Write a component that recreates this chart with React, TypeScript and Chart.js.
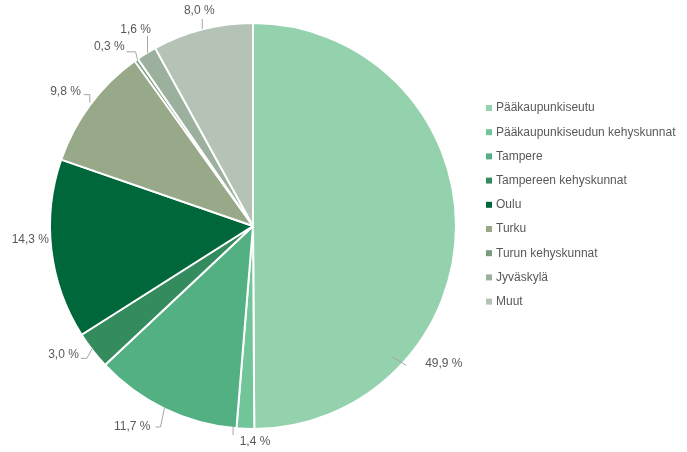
import React, { useEffect, useRef } from "react";
import { Chart, registerables } from "chart.js";

Chart.register(...registerables);

const categories = [
  "Pääkaupunkiseutu",
  "Pääkaupunkiseudun kehyskunnat",
  "Tampere",
  "Tampereen kehyskunnat",
  "Oulu",
  "Turku",
  "Turun kehyskunnat",
  "Jyväskylä",
  "Muut",
];
const values = [49.9, 1.4, 11.7, 3.0, 14.3, 9.8, 0.3, 1.6, 8.0];
const valueLabels = ["49,9 %", "1,4 %", "11,7 %", "3,0 %", "14,3 %", "9,8 %", "0,3 %", "1,6 %", "8,0 %"];
const colors = ["#94d2ad", "#72c598", "#52b083", "#348b5e", "#00673b", "#98a98a", "#7c9a80", "#9bb09d", "#b4c3b6"];

// label placement (pixels relative to pie centre, for radius 204)
type LabelPlace = { x: number; y: number; align: CanvasTextAlign; line: number[][] };
const labelPlaces: LabelPlace[] = [
  { x: 173, y: 138, align: "left", line: [[139, 131], [154, 140]] },
  { x: 2, y: 217, align: "center", line: [[-20, 201], [-20, 210]] },
  { x: -103, y: 202, align: "right", line: [[-89, 183], [-93, 202], [-98, 202]] },
  { x: -175, y: 129, align: "right", line: [[-161, 122], [-167, 133], [-173, 133]] },
  { x: -205, y: 14, align: "right", line: [] },
  { x: -173, y: -135, align: "right", line: [[-170, -132], [-164, -132], [-164, -124]] },
  { x: -129, y: -180, align: "right", line: [[-127, -175], [-118, -175], [-116, -167]] },
  { x: -118, y: -197, align: "center", line: [[-106, -191], [-106, -174]] },
  { x: -54, y: -216, align: "center", line: [[-51, -208], [-51, -198]] },
];

const FONT = '12px "Liberation Sans", Arial, sans-serif';
const TEXT = "#595959";

const labelPlugin = {
  id: "pieLabels",
  afterDatasetsDraw(chart: any) {
    const ctx = chart.ctx;
    const meta = chart.getDatasetMeta(0);
    const arc0 = meta.data[0];
    if (!arc0) return;
    const cx = arc0.x;
    const cy = arc0.y;
    const s = arc0.outerRadius / 204;
    ctx.save();
    ctx.font = FONT;
    ctx.textBaseline = "middle";
    meta.data.forEach((_: any, i: number) => {
      const p = labelPlaces[i];
      if (p.line.length) {
        ctx.strokeStyle = "#a6a6a6";
        ctx.lineWidth = 1;
        ctx.beginPath();
        p.line.forEach((pt, k) => {
          const X = cx + pt[0] * s;
          const Y = cy + pt[1] * s;
          if (k === 0) ctx.moveTo(X, Y);
          else ctx.lineTo(X, Y);
        });
        ctx.stroke();
      }
      ctx.fillStyle = TEXT;
      ctx.textAlign = p.align;
      ctx.fillText(valueLabels[i], cx + p.x * s, cy + p.y * s);
    });
    // legend
    const lx = 486;
    const ly0 = 108;
    const step = 24.2;
    ctx.textAlign = "left";
    categories.forEach((c, i) => {
      const y = ly0 + i * step;
      ctx.fillStyle = colors[i];
      ctx.fillRect(lx, y - 3, 6, 6);
      ctx.fillStyle = TEXT;
      ctx.fillText(c, lx + 10, y);
    });
    ctx.restore();
  },
};

export default function App() {
  const ref = useRef<HTMLCanvasElement>(null);
  useEffect(() => {
    document.body.style.margin = "0";
    const chart = new Chart(ref.current!, {
      type: "pie",
      data: {
        labels: categories,
        datasets: [
          {
            data: values,
            backgroundColor: colors,
            borderColor: "#ffffff",
            borderWidth: 2,
          },
        ],
      },
      options: {
        animation: false,
        responsive: false,
        layout: { padding: { left: 49, right: 230, top: 22, bottom: 22 } },
        plugins: { legend: { display: false }, tooltip: { enabled: false } },
      },
      plugins: [labelPlugin],
    });
    return () => chart.destroy();
  }, []);
  return (
    <div style={{ position: "absolute", left: 0, top: 0, width: 687, height: 452, background: "#fff" }}>
      <canvas ref={ref} width={687} height={452} style={{ width: 687, height: 452 }} />
    </div>
  );
}
